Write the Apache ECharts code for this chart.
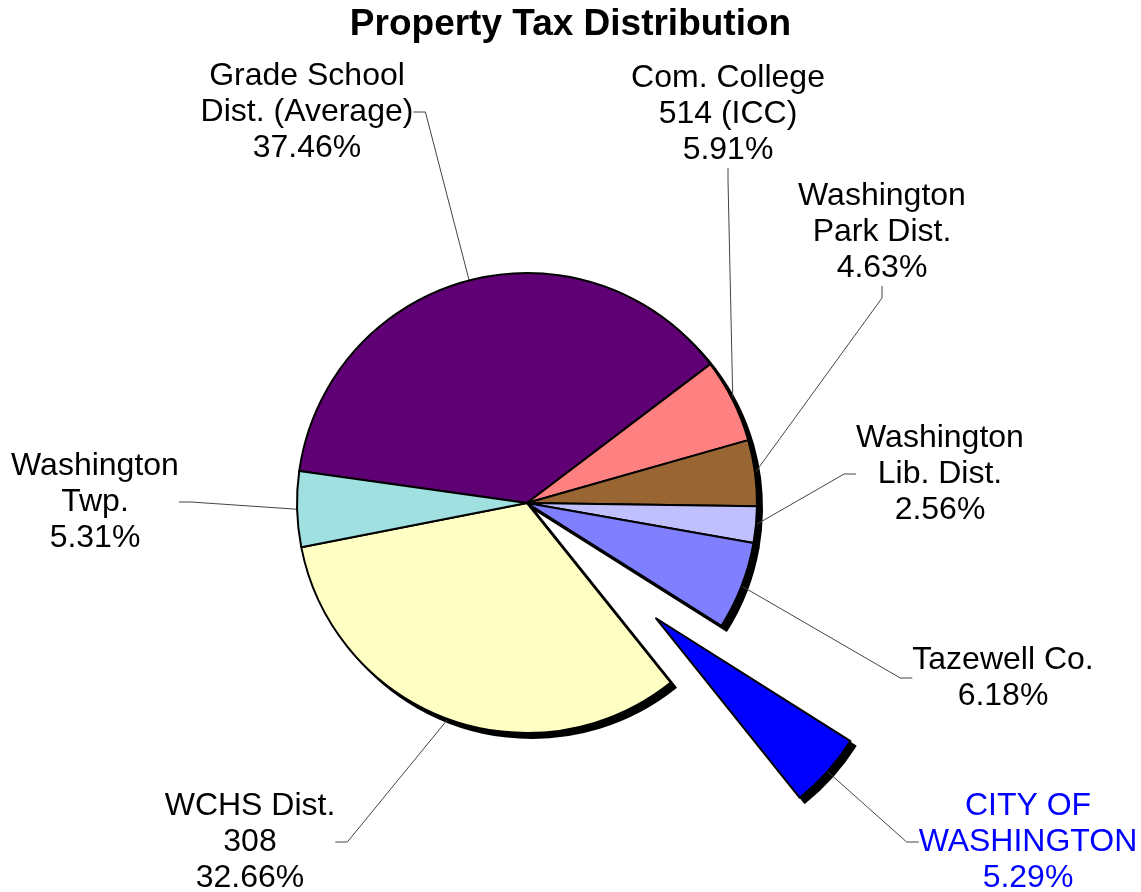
<!DOCTYPE html>
<html>
<head>
<meta charset="utf-8">
<title>Property Tax Distribution</title>
<script src="https://cdn.jsdelivr.net/npm/echarts@6/dist/echarts.min.js"></script>
<style>
    html, body { margin: 0; padding: 0; background: #fff; }
    #main { width: 1141px; height: 892px; }
</style>
</head>
<body>
<div id="main"></div>
<script>
    // slice names (as printed, with line breaks) and shares in %
    var names = [
        'Grade School\nDist. (Average)',
        'Com. College\n514 (ICC)',
        'Washington\nPark Dist.',
        'Washington\nLib. Dist.',
        'Tazewell Co.',
        'CITY OF\nWASHINGTON',
        'WCHS Dist.\n308',
        'Washington\nTwp.'
    ];
    var shares = [37.46, 5.91, 4.63, 2.56, 6.18, 5.29, 32.66, 5.31];
    var colors = ['#5f0075', '#ff8080', '#996633', '#c0c0ff', '#8080ff', '#0000ff', '#ffffc4', '#a0e0e0'];
    var cityIndex = 5;

    // where each label block sits (centre of the text block)
    var labelSpots = [
        [307, 112], [728, 114], [882, 232], [940, 474],
        [1003, 678], [1028, 842], [250, 842], [95, 502]
    ];

    var pieCenter = [527, 503];
    var pieRadius = 230;
    var startAngle = 172;
    var explode = 173;

    // direction of the exploded slice, so its label can follow it
    var total = 0, before = 0;
    for (var i = 0; i < shares.length; i++) {
        total += shares[i];
        if (i < cityIndex) before += shares[i];
    }
    var midDeg = startAngle - (before + shares[cityIndex] / 2) / total * 360;
    var cityShift = [
        Math.cos(midDeg * Math.PI / 180) * explode,
        -Math.sin(midDeg * Math.PI / 180) * explode
    ];

    var labelFont = {
        fontFamily: 'Liberation Sans',
        fontSize: 32,
        lineHeight: 36,
        align: 'center',
        formatter: function (p) {
            return p.name + '\n' + p.value.toFixed(2) + '%';
        }
    };

    var mainData = [], shadowData = [], cityLabelData = [];
    for (var i = 0; i < shares.length; i++) {
        var isCity = i == cityIndex;
        mainData.push({
            name: names[i],
            value: shares[i],
            selected: isCity,
            itemStyle: { color: colors[i] },
            label: { show: !isCity },
            labelLine: { show: !isCity }
        });
        shadowData.push({ name: names[i], value: shares[i], selected: isCity });
        cityLabelData.push({
            name: names[i],
            value: shares[i],
            label: { show: isCity, color: '#0000ff' },
            labelLine: { show: isCity }
        });
    }

    function placeLabel(p) {
        var s = labelSpots[p.dataIndex];
        return { x: s[0], y: s[1], align: 'center', verticalAlign: 'middle' };
    }

    var chart = echarts.init(document.getElementById('main'));
    var option = {
        animation: false,
        title: {
            text: 'Property Tax Distribution',
            left: 'center',
            top: 1,
            textStyle: {
                fontFamily: 'Liberation Sans',
                fontSize: 37,
                fontWeight: 'bold',
                color: '#000'
            }
        },
        series: [
            {
                // solid black drop shadow under the pie
                type: 'pie',
                silent: true,
                z: 1,
                center: [pieCenter[0] + 5, pieCenter[1] + 5],
                radius: pieRadius,
                startAngle: startAngle,
                selectedMode: 'single',
                selectedOffset: explode,
                avoidLabelOverlap: false,
                label: { show: false },
                labelLine: { show: false },
                itemStyle: { color: '#000', borderColor: '#000', borderWidth: 2 },
                emphasis: { disabled: true },
                data: shadowData
            },
            {
                type: 'pie',
                z: 2,
                center: pieCenter,
                radius: pieRadius,
                startAngle: startAngle,
                selectedMode: 'single',
                selectedOffset: explode,
                avoidLabelOverlap: false,
                itemStyle: { borderColor: '#000', borderWidth: 2 },
                emphasis: { disabled: true },
                select: { itemStyle: { borderColor: '#000', borderWidth: 2 } },
                label: Object.assign({ show: true, position: 'outside', color: '#000' }, labelFont),
                labelLine: {
                    show: true,
                    length: 20,
                    length2: 12,
                    lineStyle: { color: '#444', width: 1 }
                },
                labelLayout: placeLabel,
                data: mainData
            },
            {
                // label of the exploded slice, laid out on a pie moved with it
                type: 'pie',
                silent: true,
                z: 3,
                center: [pieCenter[0] + cityShift[0], pieCenter[1] + cityShift[1]],
                radius: pieRadius,
                startAngle: startAngle,
                avoidLabelOverlap: false,
                itemStyle: { color: 'transparent', borderWidth: 0 },
                emphasis: { disabled: true },
                label: Object.assign({ position: 'outside' }, labelFont),
                labelLine: {
                    length: 20,
                    length2: 12,
                    lineStyle: { color: '#444', width: 1 }
                },
                labelLayout: placeLabel,
                data: cityLabelData
            }
        ]
    };
    chart.setOption(option);
</script>
</body>
</html>
